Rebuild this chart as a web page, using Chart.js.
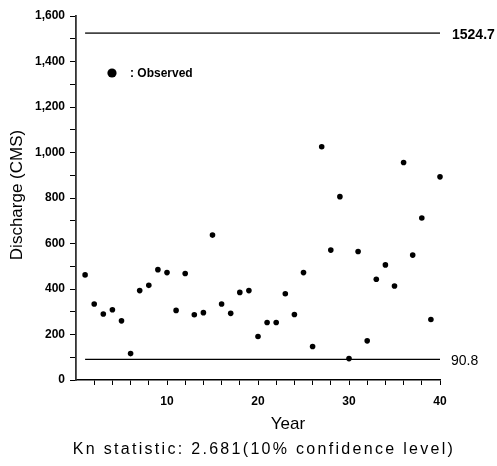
<!DOCTYPE html>
<html>
<head>
<meta charset="utf-8">
<script src="https://cdn.jsdelivr.net/npm/chart.js@4.4.1/dist/chart.umd.min.js"></script>
<style>
  html, body { margin: 0; padding: 0; background: #fff; }
  #wrap { width: 497px; height: 466px; }
</style>
</head>
<body>
<div id="wrap"><canvas id="knChart" width="497" height="466"></canvas></div>
<script>
// observed annual peak discharge (CMS)
const years = [1, 2, 3, 4, 5, 6, 7, 8, 9, 10, 11, 12, 13, 14, 15, 16, 17, 18, 19, 20,
               21, 22, 23, 24, 25, 26, 27, 28, 29, 30, 31, 32, 33, 34, 35, 36, 37, 38, 39, 40];
const discharge = [462, 334, 290, 309, 260, 116, 393, 416, 485, 472,
                   306, 468, 287, 296, 637, 334, 293, 385, 393, 191,
                   253, 253, 379, 288, 472, 147, 1025, 571, 806, 94,
                   565, 172, 443, 506, 413, 956, 549, 712, 266, 893];

// outlier thresholds
const upperBound = 1524.7;
const lowerBound = 90.8;
const boundYears = [1, 40];

const xTickLabels = [10, 20, 30, 40];
const yTickLabels = [0, 200, 400, 600, 800, 1000, 1200, 1400, 1600];

const FONT = '"Liberation Sans", Arial, Helvetica, sans-serif';

const textPlugin = {
    id: 'knText',
    afterDraw(chart) {
        const { ctx, scales } = chart;
        const xs = scales.x, ys = scales.y;
        ctx.save();
        ctx.fillStyle = '#000';

        // bound labels at right end of lines
        const xEnd = xs.getPixelForValue(boundYears[1]);
        ctx.textAlign = 'left';
        ctx.textBaseline = 'middle';
        ctx.font = 'bold 14px ' + FONT;
        ctx.fillText(String(upperBound), xEnd + 12, ys.getPixelForValue(upperBound) + 2);
        ctx.font = '14px ' + FONT;
        ctx.fillText(String(lowerBound), xEnd + 11, ys.getPixelForValue(lowerBound) + 2);

        // legend
        ctx.beginPath();
        ctx.arc(112, 73, 4.6, 0, Math.PI * 2);
        ctx.fill();
        ctx.font = 'bold 12px ' + FONT;
        ctx.fillText(': Observed', 130, 74);

        // axis titles
        ctx.textAlign = 'center';
        ctx.font = '17px ' + FONT;
        ctx.fillText('Year', 288, 424);
        ctx.save();
        ctx.translate(17, 195);
        ctx.rotate(-Math.PI / 2);
        ctx.fillText('Discharge (CMS)', 0, 0);
        ctx.restore();

        // statistic caption
        ctx.font = '16px ' + FONT;
        if ('letterSpacing' in ctx) ctx.letterSpacing = '2.3px';
        ctx.fillText('Kn statistic: 2.681(10% confidence level)', 264, 450);
        ctx.restore();
    }
};

new Chart(document.getElementById('knChart'), {
    type: 'scatter',
    data: {
        datasets: [
            {
                label: 'Observed',
                data: years.map((y, i) => ({ x: y, y: discharge[i] })),
                pointRadius: 2.8,
                pointBackgroundColor: '#000',
                pointBorderWidth: 0,
                clip: false
            },
            {
                label: 'Upper',
                data: boundYears.map(y => ({ x: y, y: upperBound })),
                showLine: true,
                pointRadius: 0,
                borderColor: '#444',
                borderWidth: 1.6
            },
            {
                label: 'Lower',
                data: boundYears.map(y => ({ x: y, y: lowerBound })),
                showLine: true,
                pointRadius: 0,
                borderColor: '#000',
                borderWidth: 1.2
            }
        ]
    },
    options: {
        responsive: false,
        animation: false,
        layout: { padding: { left: 0, right: 57, top: 16, bottom: 0 } },
        plugins: {
            legend: { display: false },
            tooltip: { enabled: false }
        },
        scales: {
            x: {
                type: 'linear',
                min: 0,
                max: 40,
                afterFit: s => { s.height = 86; },
                border: { display: true, color: '#000', width: 1.5 },
                grid: {
                    drawOnChartArea: false,
                    tickLength: 5,
                    tickColor: c => (c.tick && c.tick.value === 0 ? 'rgba(0,0,0,0)' : '#000')
                },
                ticks: {
                    stepSize: 2,
                    autoSkip: false,
                    maxRotation: 0,
                    padding: 9,
                    color: '#000',
                    font: { family: FONT, size: 12, weight: 'bold' },
                    callback: v => (xTickLabels.includes(v) ? String(v) : '')
                }
            },
            y: {
                min: 0,
                max: 1600,
                afterFit: s => { s.width = 76; },
                border: { display: true, color: '#333', width: 1.8 },
                grid: {
                    drawOnChartArea: false,
                    tickLength: 6,
                    tickColor: '#000'
                },
                ticks: {
                    stepSize: 100,
                    autoSkip: false,
                    padding: 5,
                    color: '#000',
                    font: { family: FONT, size: 12, weight: 'bold' },
                    callback: v => (yTickLabels.includes(v) ? v.toLocaleString('en-US') : '')
                }
            }
        }
    },
    plugins: [textPlugin]
});
</script>
</body>
</html>
